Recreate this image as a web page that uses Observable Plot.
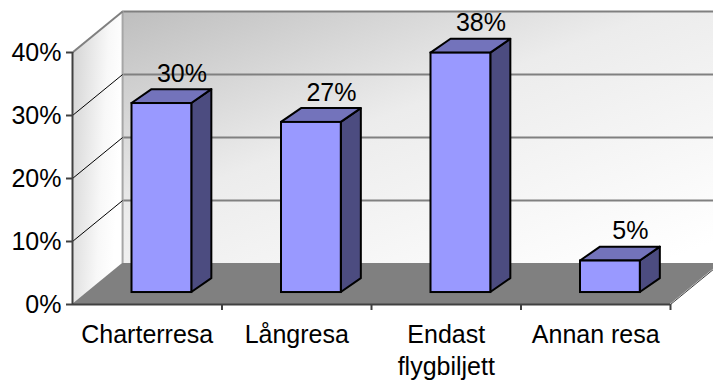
<!DOCTYPE html>
<html>
<head>
<meta charset="utf-8">
<script src="https://cdn.jsdelivr.net/npm/d3@7"></script>
<script src="https://cdn.jsdelivr.net/npm/@observablehq/plot@0.6"></script>
<style>
  html, body { margin: 0; padding: 0; background: #fff; }
  svg { display: block; }
</style>
</head>
<body>
<div id="chart"></div>
<script>
// ---- data ----
const categories = ["Charterresa", "Långresa", "Endast\nflygbiljett", "Annan resa"];
const values = [0.30, 0.27, 0.38, 0.05];
const yTicks = [0, 0.1, 0.2, 0.3, 0.4];
const categoryBounds = [1, 2, 3, 4];

// ---- 3D projection constants (data units) ----
const DX = 0.335, DY = 0.065;          // full depth of floor / walls
const BZX = 0.098, BZY = 0.019;        // bar front plane offset
const BDX = 0.134, BDY = 0.022;        // bar depth
const HALF = 0.2;                      // half bar width
const N = categories.length;
const yMax = yTicks[yTicks.length - 1];

const bars = categories.map((c, i) => ({
  i, c, v: values[i],
  x0: i + 0.5 - HALF + BZX,
  x1: i + 0.5 + HALF + BZX,
  y0: BZY,
  y1: values[i] + BZY
}));
const topPts = bars.flatMap(b => [
  {bar: b.i, y: b.y1, xa: b.x0, xb: b.x1},
  {bar: b.i, y: b.y1 + BDY, xa: b.x0 + BDX, xb: b.x1 + BDX}
]);
const sidePts = bars.flatMap(b => [
  {bar: b.i, x: b.x1, ya: b.y0, yb: b.y1},
  {bar: b.i, x: b.x1 + BDX, ya: b.y0 + BDY, yb: b.y1 + BDY}
]);

const font = "Arial, 'Liberation Sans', sans-serif";
const pct = d3.format(".0%");

const svg = Plot.plot({
  width: 713,
  height: 383,
  marginLeft: 72,
  marginRight: 43,
  marginTop: 52,
  marginBottom: 79,
  style: {fontFamily: font, background: "#fff", color: "#000", overflow: "visible"},
  x: {type: "linear", domain: [0, N], axis: null},
  y: {type: "linear", domain: [0, yMax], axis: null},
  marks: [
    // back wall
    Plot.rect([0], {x1: DX, x2: N + DX, y1: DY, y2: yMax + DY, fill: "url(#wallGrad)"}),
    // left wall
    Plot.areaY([{x: 0, a: 0, b: yMax}, {x: DX, a: DY, b: yMax + DY}], {x: "x", y1: "a", y2: "b", fill: "url(#sideGrad)"}),
    // floor
    Plot.areaX([{y: 0, a: 0, b: N}, {y: DY, a: DX, b: N + DX}], {y: "y", x1: "a", x2: "b", fill: "#808080"}),
    // back wall gridlines
    Plot.ruleY(yTicks.slice(1), {y: d => d + DY, x1: DX, x2: N + DX, stroke: "#808080", strokeWidth: 2}),
    // back wall left edge
    Plot.ruleX([DX], {y1: DY, y2: yMax + DY, stroke: "#a6a6a6", strokeWidth: 2}),
    // side wall slants
    Plot.link(yTicks.slice(1, -1), {x1: 0, y1: d => d, x2: DX, y2: d => d + DY, stroke: "#000", strokeWidth: 1}),
    Plot.link([yMax], {x1: 0, y1: d => d, x2: DX, y2: d => d + DY, stroke: "#808080", strokeWidth: 2}),
    // axis lines
    Plot.ruleX([0], {y1: 0, y2: yMax, stroke: "#404040", strokeWidth: 2}),
    Plot.ruleY([0], {x1: 0, x2: N, stroke: "#404040", strokeWidth: 2}),
    Plot.link([0], {x1: N, y1: 0, x2: N + DX, y2: DY, stroke: "#404040", strokeWidth: 1}),
    // axes
    Plot.axisY(yTicks, {tickFormat: pct, tickSize: 6, tickPadding: 5, fontSize: 25, stroke: "#404040", strokeWidth: 2, fill: "#000"}),
    Plot.axisX(categoryBounds, {tickFormat: () => "", tickSize: 6, stroke: "#404040", strokeWidth: 2}),
    Plot.axisX(categories.map((c, i) => i + 0.5), {tickFormat: d => categories[Math.floor(d)], tickSize: 0, tickPadding: 16, fontSize: 25, lineHeight: 1.28, fill: "#000"}),
    // bars: side, top, front
    Plot.areaY(sidePts, {x: "x", y1: "ya", y2: "yb", z: "bar", fill: "#4c4c80", stroke: "#000", strokeWidth: 2, strokeLinejoin: "round"}),
    Plot.areaX(topPts, {y: "y", x1: "xa", x2: "xb", z: "bar", fill: "#7373bb", stroke: "#000", strokeWidth: 2, strokeLinejoin: "round"}),
    Plot.rect(bars, {x1: "x0", x2: "x1", y1: "y0", y2: "y1", fill: "#9999ff", stroke: "#000", strokeWidth: 2}),
    // value labels
    Plot.text(bars, {x: d => (d.x0 + d.x1) / 2 + BDX, y: d => d.y1 + BDY, text: d => pct(d.v), dy: -8, lineAnchor: "bottom", fontSize: 25, fill: "#000"})
  ]
});

// gradients
const defs = d3.select(svg).insert("defs", ":first-child");
const g1 = defs.append("linearGradient").attr("id", "wallGrad")
  .attr("x1", 0).attr("y1", 0).attr("x2", 0.9).attr("y2", 1);
g1.append("stop").attr("offset", 0).attr("stop-color", "#bebebe");
g1.append("stop").attr("offset", 0.45).attr("stop-color", "#ececec");
g1.append("stop").attr("offset", 1).attr("stop-color", "#ffffff");
const g2 = defs.append("linearGradient").attr("id", "sideGrad")
  .attr("x1", 0).attr("y1", 0).attr("x2", 1).attr("y2", 0.3);
g2.append("stop").attr("offset", 0).attr("stop-color", "#d2d2d2");
g2.append("stop").attr("offset", 0.7).attr("stop-color", "#f8f8f8");
g2.append("stop").attr("offset", 1).attr("stop-color", "#ffffff");

document.getElementById("chart").appendChild(svg);
</script>
</body>
</html>
